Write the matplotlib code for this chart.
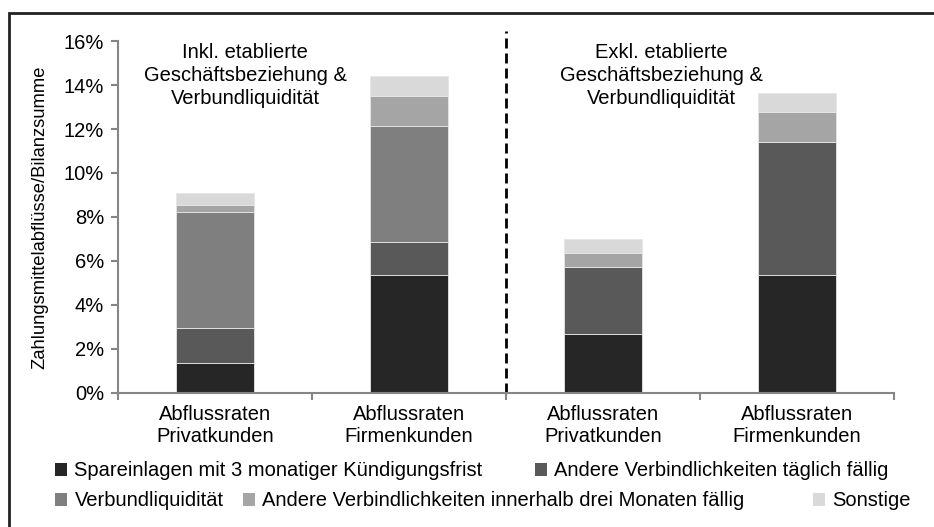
import numpy as np
import matplotlib.pyplot as plt
from matplotlib.patches import Rectangle, Patch

plt.rcParams['font.family'] = ['Liberation Sans', 'DejaVu Sans']

# Data (in % of Bilanzsumme)
categories = ['Abflussraten\nPrivatkunden', 'Abflussraten\nFirmenkunden',
              'Abflussraten\nPrivatkunden', 'Abflussraten\nFirmenkunden']
series_names = ['Spareinlagen mit 3 monatiger Kündigungsfrist',
                'Andere Verbindlichkeiten täglich fällig',
                'Verbundliquidität',
                'Andere Verbindlichkeiten innerhalb drei Monaten fällig',
                'Sonstige']
spareinlagen = [1.37, 5.34, 2.68, 5.34]
taeglich = [1.56, 1.53, 3.03, 6.07]
verbund = [5.29, 5.28, 0.0, 0.0]
drei_monate = [0.33, 1.36, 0.66, 1.36]
sonstige = [0.55, 0.88, 0.62, 0.86]
section_titles = ['Inkl. etablierte\nGeschäftsbeziehung &\nVerbundliquidität',
                  'Exkl. etablierte\nGeschäftsbeziehung &\nVerbundliquidität']

colors = ['#262626', '#595959', '#7f7f7f', '#a5a5a5', '#d9d9d9']
series = [spareinlagen, taeglich, verbund, drei_monate, sonstige]
fs = 14.5

fig = plt.figure(figsize=(9.34, 5.27), dpi=100)
ax = fig.add_axes([0.1263, 0.2548, 0.957 - 0.1263, 0.922 - 0.2548])

x = np.arange(len(categories))
bottom = np.zeros(len(categories))
for vals, col in zip(series, colors):
    vals = np.array(vals)
    ax.bar(x, vals, width=0.4, bottom=bottom, color=col,
           edgecolor='#e6e6e6', linewidth=0.6)
    bottom += vals

ax.set_xlim(-0.5, 3.5)
ax.set_ylim(0, 16)
ax.set_yticks(np.arange(0, 17, 2))
ax.set_yticklabels([f'{v}%' for v in range(0, 17, 2)], fontsize=fs)
ax.set_xticks(x)
ax.set_xticklabels(categories, fontsize=fs, linespacing=1.2)
ax.set_xticks(np.arange(-0.5, 4, 1), minor=True)
ax.tick_params(axis='x', which='major', length=0, pad=9)
ax.tick_params(axis='x', which='minor', length=5, width=1.5, color='#868686')
ax.tick_params(axis='y', length=5, width=1.5, color='#868686', pad=5)
for s in ['top', 'right']:
    ax.spines[s].set_visible(False)
for s in ['left', 'bottom']:
    ax.spines[s].set_color('#868686')
    ax.spines[s].set_linewidth(1.5)

ax.set_ylabel('Zahlungsmittelabflüsse/Bilanzsumme', fontsize=13.2, labelpad=11)

# dashed separator between the two sections
ax.plot([1.5, 1.5], [0, 16.45], color='black', linestyle=(0, (3.6, 1.8)),
        linewidth=2, clip_on=False)

ax.text(0.155, 15.9, section_titles[0], ha='center', va='top', fontsize=fs,
        linespacing=1.25)
ax.text(2.30, 15.9, section_titles[1], ha='center', va='top', fontsize=fs,
        linespacing=1.25)

# legend, Excel style: two rows
legend_pos = [(60, 471), (540, 471), (60, 501), (248, 501), (818, 501)]
for name, col, (px, py) in zip(series_names, colors, legend_pos):
    h = Patch(facecolor=col, edgecolor='none')
    fig.legend([h], [name], loc='center left',
               bbox_to_anchor=(px / 934 - 0.005, 1 - py / 527),
               frameon=False, fontsize=fs, handlelength=0.6,
               handleheight=0.6, handletextpad=0.35, borderpad=0,
               borderaxespad=0)

# outer frame
fig.patches.append(Rectangle((9 / 934, -0.05), 1.2, 1 - 13 / 527 + 0.05,
                             transform=fig.transFigure, fill=False,
                             edgecolor='#222222', linewidth=2))

fig.savefig('out.png', dpi=100)
